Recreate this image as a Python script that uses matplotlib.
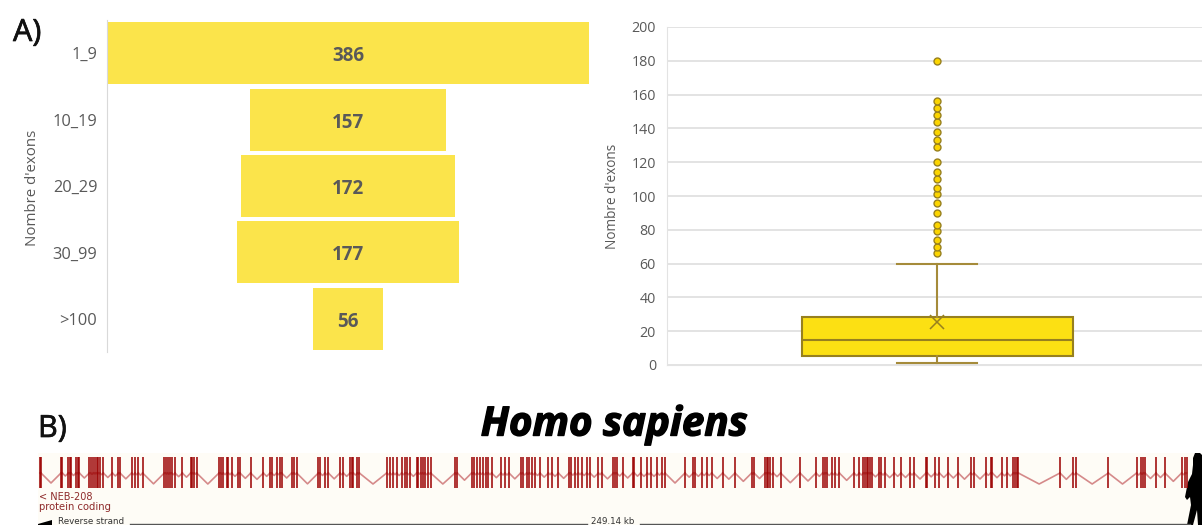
import matplotlib
matplotlib.use("Agg")
import matplotlib.pyplot as plt
import matplotlib.patheffects as pe
from matplotlib.patches import Polygon, Rectangle

W, H = 1202, 525
GREY = "#595959"

# ---- data ----
funnel_labels = ["1_9", "10_19", "20_29", "30_99", ">100"]
funnel_values = [386, 157, 172, 177, 56]
funnel_axis_label = "Nombre d'exons"

box_ticks = list(range(0, 201, 20))
box_q1 = 5.5
box_median = 14.6
box_q3 = 28.6
box_mean = 25.5
box_whislo = 1
box_whishi = 60
box_outliers = [66, 70, 74, 79, 83, 90, 96, 101, 105, 110, 114, 120,
                129, 133, 138, 144, 148, 152, 156, 180]

crop1 = [120, 123, 183, 187, 205, 210, 213, 228, 233, 238, 268, 272, 280, 285, 290, 295,
         300, 310, 337, 355, 360, 395, 405, 415, 428, 493, 497, 503, 510, 515, 525,
         547, 572, 577, 583, 590, 657, 662, 670, 680, 685, 695, 715, 720, 752, 790,
         810, 815, 830, 840, 845, 875, 882, 890, 955, 960, 975, 985, 1020, 1030, 1050,
         1055, 1060, 1072, 1078, 1160, 1170, 1180, 1190]
crop2 = [5, 15, 20, 30, 50, 55, 62, 68, 75, 85, 92, 165, 172, 215, 222, 232, 240, 248,
         258, 265, 275, 303, 315, 327, 362, 368, 380, 388, 395, 405, 420, 445, 455, 475,
         507, 512, 525, 535, 545, 560, 570, 595, 605, 640, 645, 650, 668, 698, 703, 722,
         742, 752, 772, 785, 795, 855, 880, 885, 905, 920, 935, 968, 1005, 1055, 1062,
         1095, 1100, 1105, 1110, 1120, 1142]
crop3 = [0, 48, 68, 75, 80, 95, 105, 118, 162, 178, 190, 195, 200, 205, 210, 215, 238,
         243, 255, 283, 303, 330, 342, 378, 382, 405, 418, 445, 475, 512, 522, 558,
         572, 577, 605, 622, 640, 645, 650, 655, 780, 818, 828, 925, 1010, 1022, 1030,
         1035, 1068, 1095, 1145, 1155, 1160]
exon_x = [z / 3 for z in crop1] + [400 + z / 3 for z in crop2] + [800 + z / 3 for z in crop3]


def axes_px(x0, y0, x1, y1, **kw):
    return fig.add_axes([x0 / W, 1 - y1 / H, (x1 - x0) / W, (y1 - y0) / H], **kw)


fig = plt.figure(figsize=(W / 100, H / 100), dpi=100, facecolor="white")
plt.rcParams["font.family"] = ["Open Sans", "DejaVu Sans"]

# ---- funnel ----
ax = axes_px(107, 20, 589, 352)
ypos = list(range(len(funnel_values)))
ax.barh(ypos, funnel_values, left=[-v / 2 for v in funnel_values], height=0.935, color="#FBE44B")
ax.set_xlim(-193, 193)
ax.set_ylim(4.5, -0.5)
ax.set_xticks([])
ax.set_yticks(ypos, funnel_labels, color=GREY, fontsize=11.8, va="center_baseline")
ax.tick_params(axis="y", length=0, pad=7)
for s in ["top", "right", "bottom"]:
    ax.spines[s].set_visible(False)
ax.spines["left"].set_color("#d9d9d9")
for y, v in zip(ypos, funnel_values):
    ax.annotate(str(v), (0, y), xytext=(0, -3), textcoords="offset pixels", ha="center", va="center",
                fontsize=13.5, fontweight="bold", color=GREY)
ax.set_ylabel(funnel_axis_label, color=GREY, fontsize=10.8)
ax.yaxis.set_label_coords(-0.14, 0.495)

# ---- box plot ----
bx = axes_px(667, 27, 1202, 365)
stats = [dict(med=box_median, q1=box_q1, q3=box_q3, whislo=box_whislo, whishi=box_whishi,
              mean=box_mean, fliers=box_outliers)]
EDGE = "#A58B3A"
line = dict(color=EDGE, linewidth=1.5)
bx.bxp(stats, positions=[0.505], widths=[0.506], capwidths=[0.15], patch_artist=True,
       showmeans=True, meanline=False,
       boxprops=dict(facecolor="#FCE013", edgecolor="#97801F", linewidth=1.5),
       medianprops=dict(color="#97801F", linewidth=1.5), whiskerprops=line, capprops=line,
       meanprops=dict(marker="x", markeredgecolor="#97801F", markersize=10, markeredgewidth=1.1),
       flierprops=dict(marker="o", markerfacecolor="#FCD500", markeredgecolor="#97801F",
                       markersize=5, markeredgewidth=1.0),
       zorder=3)
bx.set_xlim(0, 1)
bx.set_ylim(0, 200)
bx.set_xticks([])
bx.set_yticks(box_ticks, [str(t) for t in box_ticks], color=GREY, fontsize=10.3)
bx.tick_params(axis="y", length=0, pad=8)
bx.grid(axis="y", color="#e3e3e3", linewidth=1.4)
bx.set_axisbelow(True)
for s in ["top", "right"]:
    bx.spines[s].set_visible(False)
bx.spines["left"].set_color("#e3e3e3")
bx.spines["bottom"].set_color("#e3e3e3")
bx.set_ylabel(funnel_axis_label, color=GREY, fontsize=9.8)
bx.yaxis.set_label_coords(-0.088, 0.5)

# ---- gene track ----
gx = axes_px(0, 440, W, H)
gx.set_xlim(0, W)
gx.set_ylim(H, 440)
gx.axis("off")
gx.add_patch(Rectangle((38, 453), W - 38, H - 453, facecolor="#FEFCF6", edgecolor="none"))
for a, b in zip(exon_x[:-1], exon_x[1:]):
    gap = b - a
    depth = min(11, gap * 0.5)
    gx.plot([a, (a + b) / 2, b], [473, 473 + depth, 473], color="#D58A8A", linewidth=1.2)
gx.vlines(exon_x, 457, 488, color="#9B0000", linewidth=1.3, alpha=0.85)
gx.text(39, 497, "< NEB-208", fontsize=7, color="#8E2A2A", va="center", family="DejaVu Sans")
gx.text(39, 507.5, "protein coding", fontsize=7.2, color="#8E2A2A", va="center", family="DejaVu Sans")
gx.plot([130, 587], [523.8, 523.8], color="#555555", linewidth=1)
gx.plot([640, 1190], [523.8, 523.8], color="#555555", linewidth=1)
gx.add_patch(Polygon([[38, 524], [52, 520], [52, 525], [38, 525]], facecolor="black"))
gx.text(58, 521.5, "Reverse strand", fontsize=6.3, color="#333333", va="center", family="DejaVu Sans")
gx.text(613, 521.5, "249.14 kb", fontsize=6.3, color="#333333", va="center", ha="center", family="DejaVu Sans")
human = [[1193, 458], [1195, 453], [1200, 453], [1202, 455], [1202, 525], [1198, 525], [1197, 510],
         [1193, 525], [1187, 525], [1191, 505], [1190, 497], [1187, 500], [1185, 497], [1188, 482],
         [1192, 474], [1193, 465]]
gx.add_patch(Polygon(human, facecolor="black", edgecolor="none"))

# ---- panel text ----
fig.text(13 / W, 1 - 33 / H, "A)", fontsize=22, color="#111111", va="center",
         path_effects=[pe.withStroke(linewidth=0.5, foreground="#111111")])
fig.text(38 / W, 1 - 429 / H, "B)", fontsize=22, color="#111111", va="center",
         path_effects=[pe.withStroke(linewidth=0.5, foreground="#111111")])
fig.text(614 / W, 1 - 425 / H, "Homo sapiens", fontsize=29, fontweight="bold", style="italic",
         color="black", ha="center", va="center", family="Open Sans",
         path_effects=[pe.withStroke(linewidth=1.0, foreground="black")])

fig.savefig("out.png", dpi=100)
